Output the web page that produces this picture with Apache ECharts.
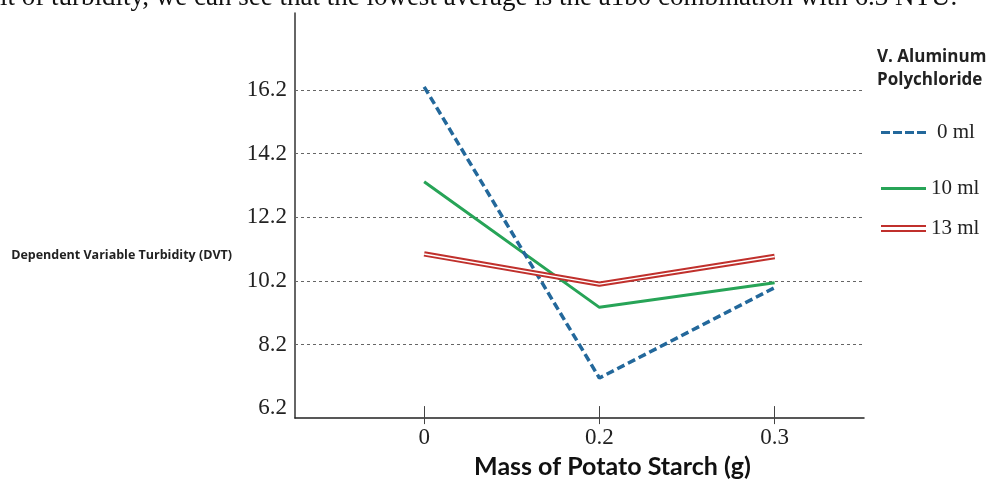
<!DOCTYPE html>
<html><head><meta charset="utf-8">
<script src="https://cdn.jsdelivr.net/npm/echarts@6/dist/echarts.min.js"></script>
<style>html,body{margin:0;padding:0;background:#fff}#chart{width:992px;height:484px}</style>
</head><body><div id="chart"></div>
<script>
// ---- data ----
const xLabels = ['0', '0.2', '0.3'];
const xPositions = [0, 1, 2];
const seriesNames = ['0 ml', '10 ml', '13 ml'];
const values0ml = [16.3, 7.15, 9.99];
const values10ml = [13.32, 9.37, 10.14];
const values13ml = [11.05, 10.10, 10.97];
const yTickLabels = [6.2, 8.2, 10.2, 12.2, 14.2, 16.2];
const yGridValues = [8.2, 10.2, 12.2, 14.2, 16.2];
const legendTitle = 'V. Aluminum\nPolychloride';
const xAxisTitle = 'Mass of Potato Starch (g)';
const yAxisTitle = 'Dependent Variable Turbidity (DVT)';
const topText = 'it of turbidity, we can see that the lowest average is the a1b0 combination with 6.3 NTU.';

const pairs = vals => xPositions.map((x, i) => [x, vals[i]]);
const BLUE = '#23689b', GREEN = '#27a457', RED = '#c0302c';
const serif = '"Liberation Serif", "Times New Roman", serif';

const chart = echarts.init(document.getElementById('chart'));
function legendFor(name, top, textPad, icon) {
  return {
    data: [{ name: name, icon: icon }], left: 881, top: top, orient: 'vertical', padding: 0,
    itemWidth: 45, itemHeight: 14, selectedMode: false,
    textStyle: { fontFamily: serif, fontSize: 21, color: '#222', padding: [0, 0, 0, textPad] }
  };
}
const option = {
  animation: false,
  backgroundColor: '#fff',
  title: {
    text: legendTitle, left: 877, top: 46, padding: 0,
    textStyle: { fontFamily: 'Open Sans', fontWeight: 'bold', fontSize: 17, lineHeight: 23, color: '#222' }
  },
  graphic: [{
    type: 'text', x: 0, y: -16, silent: true,
    style: { text: topText, font: '27px "Liberation Serif"', fill: '#111' }
  }, {
    type: 'text', x: 232, y: 255, silent: true,
    style: { text: yAxisTitle, font: 'bold 12.5px "Open Sans"', fill: '#222', align: 'right', verticalAlign: 'middle' }
  }],
  legend: [
    legendFor(seriesNames[0], 122, 6, 'path://M0,0h9v3h-9zM12,0h9v3h-9zM24,0h9v3h-9zM36,0h9v3h-9z'),
    legendFor(seriesNames[1], 178, 0, 'path://M0,0h45v3h-45z'),
    legendFor(seriesNames[2], 218, 0, 'path://M0,0h45v2h-45zM0,5h45v2h-45z')
  ],
  grid: { left: 295, right: 128, top: 13, bottom: 58, containLabel: false },
  xAxis: [{
    type: 'value', min: -0.737, max: 2.51,
    name: xAxisTitle, nameLocation: 'middle', nameGap: 30,
    nameTextStyle: { fontFamily: 'Lato', fontWeight: 'bold', fontSize: 25, color: '#111', padding: [0, 0, 0, 66] },
    axisLine: { show: true, onZero: false, lineStyle: { color: '#222', width: 1.5 } },
    axisTick: { show: true, inside: true, length: 12, customValues: xPositions, lineStyle: { color: '#444', width: 1 } },
    axisLabel: { customValues: xPositions, margin: 8, fontFamily: serif, fontSize: 23, color: '#222',
      formatter: v => xLabels[xPositions.indexOf(v)] },
    splitLine: { show: false }
  }, {
    type: 'value', min: -0.737, max: 2.51, position: 'bottom',
    axisLine: { show: false, onZero: false },
    axisTick: { show: true, inside: false, length: 6, customValues: xPositions, lineStyle: { color: '#444', width: 1 } },
    axisLabel: { show: false }, splitLine: { show: false }
  }],
  yAxis: {
    type: 'value', min: 5.89, max: 18.62,
    axisLine: { show: true, onZero: false, lineStyle: { color: '#333', width: 1.5 } },
    axisTick: { show: false },
    axisLabel: { customValues: yTickLabels, margin: 8, fontFamily: serif, fontSize: 23, color: '#222',
      formatter: v => v.toFixed(1) },
    splitLine: { show: false }
  },
  series: [
    {
      name: seriesNames[0], type: 'line', data: pairs(values0ml), symbol: 'none', z: 4,
      lineStyle: { color: BLUE, width: 3.5, type: [8, 4] }, itemStyle: { color: BLUE },
      markLine: {
        silent: true, symbol: 'none', z: 1, label: { show: false },
        lineStyle: { color: '#666', width: 1, type: [3, 3] },
        data: yGridValues.map(v => ({ yAxis: v }))
      }
    },
    {
      name: seriesNames[1], type: 'line', data: pairs(values10ml), symbol: 'none', z: 3,
      lineStyle: { color: GREEN, width: 3 }, itemStyle: { color: GREEN }
    },
    {
      name: seriesNames[2], type: 'line', data: pairs(values13ml), symbol: 'none', z: 5,
      lineStyle: { color: RED, width: 5.5 }, itemStyle: { color: RED }
    },
    {
      name: '13 ml inner', type: 'line', data: pairs(values13ml), symbol: 'none', z: 6,
      lineStyle: { color: '#fff', width: 1.5 }, itemStyle: { color: '#fff' }
    }
  ]
};
chart.setOption(option);
</script></body></html>
